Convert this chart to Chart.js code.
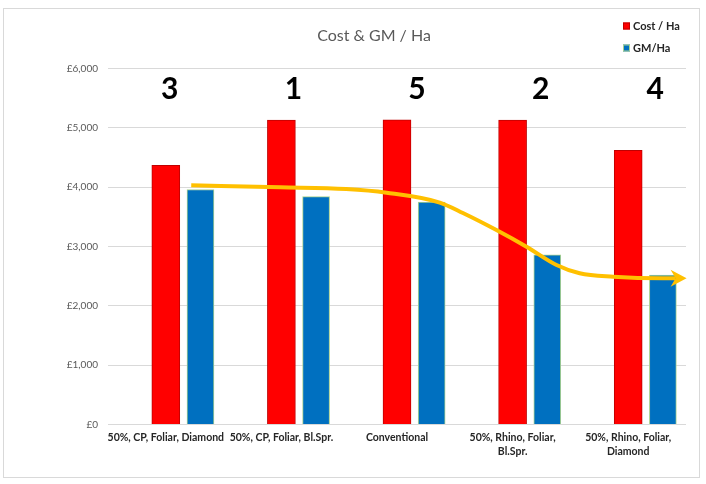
<!DOCTYPE html>
<html>
<head>
<meta charset="utf-8">
<script src="https://cdn.jsdelivr.net/npm/chart.js@4"></script>
<style>
  html, body { margin: 0; padding: 0; background: #ffffff; }
  #wrap { position: absolute; left: 3px; top: 8px; width: 697px; height: 470px; box-sizing: border-box; border: 1px solid #d9d9d9; background: #fff; }
  canvas { display: block; }
</style>
</head>
<body>
<div id="wrap"><canvas id="c" width="695" height="468"></canvas></div>
<script>
const categories = [
  "50%, CP, Foliar, Diamond",
  "50%, CP, Foliar, Bl.Spr.",
  "Conventional",
  ["50%, Rhino, Foliar,", "Bl.Spr."],
  ["50%, Rhino, Foliar,", "Diamond"]
];
const costPerHa = [4370, 5130, 5135, 5130, 4620];
const gmPerHa = [3960, 3840, 3750, 2860, 2520];
const rankLabels = ["3", "1", "5", "2", "4"];
// hand-drawn trend arrow (x in category-index units)
const trendX = [0.22, 0.99, 1.56, 1.91, 2.37, 2.57, 2.86, 3.12, 3.38, 3.58, 3.87, 4.30, 4.41];
const trendY = [4032, 3998, 3969, 3907, 3741, 3565, 3278, 2997, 2688, 2548, 2491, 2464, 2464];
const yTicks = [0, 1000, 2000, 3000, 4000, 5000, 6000];
const legendLabels = ["Cost / Ha", "GM/Ha"];
const titleText = "Cost & GM / Ha";

const FONT = "Lato, 'Noto Sans', sans-serif";
const GROUP_SHIFT = 0.30; // blue bar sits beside the red one (category units)

const overlay = {
  id: 'overlay',
  afterDraw(chart) {
    const ctx = chart.ctx;
    const xs = chart.scales.x;
    // title
    ctx.save();
    ctx.fillStyle = '#595959';
    ctx.font = "16px " + FONT;
    ctx.textAlign = 'center';
    ctx.textBaseline = 'middle';
    ctx.fillText(titleText, 370, 27);
    ctx.restore();

    // arrow head on the trend line
    const meta = chart.getDatasetMeta(0);
    const pts = meta.data;
    const p1 = pts[pts.length - 1], p0 = pts[pts.length - 2];
    const ang = Math.atan2(p1.y - p0.y, p1.x - p0.x);
    ctx.save();
    ctx.translate(p1.x, p1.y);
    ctx.rotate(ang);
    ctx.fillStyle = '#FFC000';
    ctx.beginPath();
    ctx.moveTo(11, 0);
    ctx.lineTo(-5, -8.5);
    ctx.lineTo(0, 0);
    ctx.lineTo(-5, 8.5);
    ctx.closePath();
    ctx.fill();
    ctx.restore();

    // rank numbers with white boxes
    const offs = [4, 12, 20, 28, 27];
    const yc = 79;
    ctx.save();
    rankLabels.forEach((t, i) => {
      const x = xs.getPixelForValue(i) + offs[i];
      ctx.fillStyle = '#ffffff';
      ctx.fillRect(x - 21, yc - 18, 42, 36);
      ctx.fillStyle = '#000000';
      ctx.font = "bold 30px " + FONT;
      ctx.textAlign = 'center';
      ctx.textBaseline = 'middle';
      ctx.fillText(t, x, yc + 1);
    });
    ctx.restore();

    // legend
    ctx.save();
    const items = [chart.data.datasets[1], chart.data.datasets[2]];
    items.forEach((d, i) => {
      const y = 17 + i * 22;
      ctx.fillStyle = d.backgroundColor;
      ctx.fillRect(619, y - 3.5, 7, 7);
      ctx.strokeStyle = d.borderColor;
      ctx.lineWidth = 1;
      ctx.strokeRect(619.5, y - 3, 6, 6);
      ctx.fillStyle = '#262626';
      ctx.font = "bold 11px " + FONT;
      ctx.textAlign = 'left';
      ctx.textBaseline = 'middle';
      ctx.fillText(legendLabels[i], 629, y);
    });
    ctx.restore();
  }
};

new Chart(document.getElementById('c'), {
  data: {
    labels: categories,
    datasets: [
      {
        type: 'line', label: 'trend', xAxisID: 'xl', yAxisID: 'y', order: 0,
        data: trendX.map((x, i) => ({ x: x, y: trendY[i] })),
        borderColor: '#FFC000', borderWidth: 4, pointRadius: 0,
        cubicInterpolationMode: 'monotone', fill: false
      },
      {
        type: 'bar', label: legendLabels[0], order: 1, xAxisID: 'xl', yAxisID: 'y',
        data: costPerHa.map((v, i) => ({ x: i, y: v })),
        backgroundColor: '#FF0000', borderColor: '#C00000', borderWidth: 1,
        grouped: false, barThickness: 28
      },
      {
        type: 'bar', label: legendLabels[1], order: 1, xAxisID: 'xl', yAxisID: 'y',
        data: gmPerHa.map((v, i) => ({ x: i + GROUP_SHIFT, y: v })),
        backgroundColor: '#0070C0', borderColor: '#A9D18E', borderWidth: 1,
        grouped: false, barThickness: 27
      }
    ]
  },
  options: {
    responsive: false,
    animation: false,
    events: [],
    layout: { padding: { left: 0, right: 13, top: 59.5, bottom: 0 } },
    plugins: {
      legend: { display: false },
      tooltip: { enabled: false },
      title: { display: false }
    },
    scales: {
      x: {
        type: 'category', offset: true, position: 'bottom',
        grid: { display: false, drawTicks: false },
        border: { display: false },
        ticks: {
          color: '#262626', font: { family: FONT, size: 10.5, weight: 'bold', lineHeight: 1.33 },
          maxRotation: 0, minRotation: 0, autoSkip: false, padding: 6
        },
        afterFit(s) { s.height = 52.5; }
      },
      xl: {
        type: 'linear', display: false, min: -0.5, max: 4.5, offset: false,
        grid: { offset: false }
      },
      y: {
        min: 0, max: 6000,
        afterBuildTicks(s) { s.ticks = yTicks.map(v => ({ value: v })); },
        grid: { color: '#d9d9d9', lineWidth: 1, drawTicks: false },
        border: { display: false },
        ticks: {
          color: '#595959', font: { family: FONT, size: 10 }, padding: 10,
          callback: v => '£' + v.toLocaleString('en-GB')
        },
        afterFit(s) { s.width = 104; }
      }
    }
  },
  plugins: [overlay]
});
</script>
</body>
</html>
